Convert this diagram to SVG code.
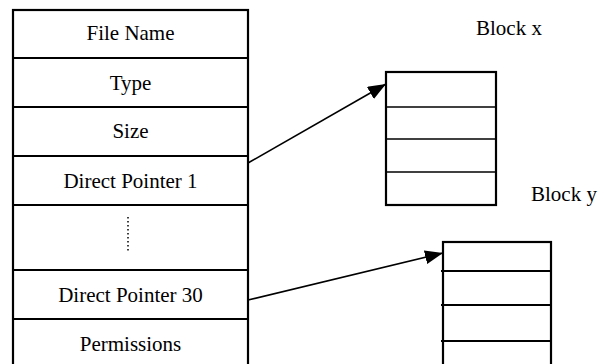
<svg xmlns="http://www.w3.org/2000/svg" width="605" height="364" viewBox="0 0 605 364">
<style>
text{font-family:"Liberation Serif","Times New Roman",serif;font-size:21px;fill:#000}
.t{text-anchor:middle}
.cell{fill:#fff;stroke:#000;stroke-width:2.2}
.thin{stroke:#000;stroke-width:1.3;fill:none}
.thick{stroke:#000;stroke-width:2.2;fill:none}
.conn{stroke:#000;stroke-width:1.6;fill:none}
</style>
<defs>
<marker id="ah" markerWidth="18" markerHeight="14" refX="18" refY="7" orient="auto" markerUnits="userSpaceOnUse">
<path d="M0,0 L18,7 L0,14 Z" fill="#000"/>
</marker>
</defs>
<rect width="605" height="364" fill="#fff"/>
<g id="inode">
<rect class="cell" x="13" y="10" width="235" height="370"/>
<line class="thick" x1="13" y1="58" x2="248" y2="58"/>
<line class="thick" x1="13" y1="107" x2="248" y2="107"/>
<line class="thick" x1="13" y1="156" x2="248" y2="156"/>
<line class="thick" x1="13" y1="205" x2="248" y2="205"/>
<line class="thick" x1="13" y1="270" x2="248" y2="270"/>
<line class="thick" x1="13" y1="319" x2="248" y2="319"/>
<text class="t" x="130.5" y="40">File Name</text>
<text class="t" x="130.5" y="90">Type</text>
<text class="t" x="130.5" y="138">Size</text>
<text class="t" x="130.5" y="188">Direct Pointer 1</text>
<line x1="128" y1="217" x2="128" y2="252" stroke="#000" stroke-width="1.5" stroke-dasharray="1.5 2.5"/>
<text class="t" x="130.5" y="302">Direct Pointer 30</text>
<text class="t" x="130.5" y="351">Permissions</text>
</g>
<g id="blockx">
<rect class="thick" x="386" y="72" width="110" height="133"/>
<line class="thin" x1="386" y1="107" x2="496" y2="107"/>
<line class="thin" x1="386" y1="139" x2="496" y2="139"/>
<line class="thin" x1="386" y1="172" x2="496" y2="172"/>
<text x="476" y="35">Block x</text>
</g>
<g id="blocky">
<rect class="thick" x="443" y="242" width="108" height="140"/>
<line class="thick" x1="441" y1="271" x2="552" y2="271"/>
<line class="thick" x1="441" y1="305" x2="552" y2="305"/>
<line class="thick" x1="441" y1="341" x2="552" y2="341"/>
<text x="531" y="201">Block y</text>
</g>
<g id="connectors">
<line class="conn" x1="248" y1="163" x2="386" y2="84" marker-end="url(#ah)"/>
<line class="conn" x1="248" y1="300" x2="443" y2="253" marker-end="url(#ah)"/>
</g>
</svg>
